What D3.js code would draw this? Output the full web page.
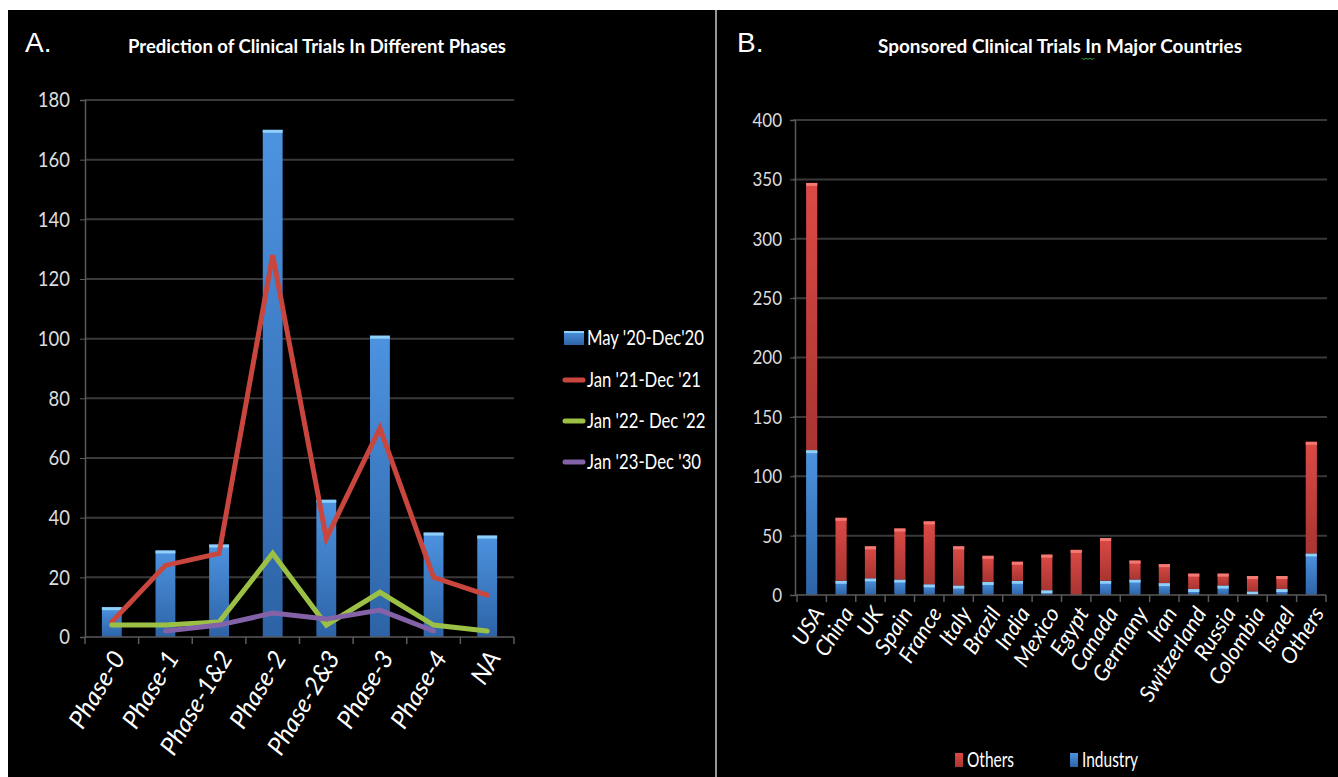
<!DOCTYPE html>
<html><head><meta charset="utf-8">
<script src="https://cdn.jsdelivr.net/npm/d3@7"></script>
<style>
html,body{margin:0;padding:0;background:#fff;}
svg{display:block;}
</style></head>
<body>
<svg id="c" width="1338" height="777"></svg>
<script>
// ---------- Data ----------
const phases = ["Phase-0","Phase-1","Phase-1&2","Phase-2","Phase-2&3","Phase-3","Phase-4","NA"];
const may20 = [10,29,31,170,46,101,35,34];
const jan21 = [5,24,28,128,33,70,20,14];
const jan22 = [4,4,5,28,4,15,4,2];
const jan23 = [null,2,4,8,6,9,2,null];
const seriesNames = ["May '20-Dec'20","Jan '21-Dec '21","Jan '22- Dec '22","Jan '23-Dec '30"];
const leftTicks = [0,20,40,60,80,100,120,140,160,180];

const countries = ["USA","China","UK","Spain","France","Italy","Brazil","India","Mexico","Egypt","Canada","Germany","Iran","Switzerland","Russia","Colombia","Israel","Others"];
const industry = [122,12,14,13,9,8,11,12,4,0,12,13,10,5,8,3,5,35];
const others   = [225,53,27,43,53,33,22,16,30,38,36,16,16,13,10,13,11,94];
const rightTicks = [0,50,100,150,200,250,300,350,400];
const stackNames = ["Others","Industry"];

const FONT = "Lato,'Open Sans',sans-serif";
const svg = d3.select("#c");

function narrow(sel, f){
  sel.each(function(){
    const L = this.getComputedTextLength();
    d3.select(this).attr("textLength", L*f).attr("lengthAdjust","spacingAndGlyphs");
  });
}
function fitFirst(sel, target){
  const L = sel.node().getComputedTextLength();
  narrow(sel, target/L);
}

// backgrounds
svg.append("rect").attr("x",8).attr("y",10).attr("width",1330).attr("height",767).attr("fill","#000");
svg.append("line").attr("x1",716).attr("x2",716).attr("y1",10).attr("y2",777).attr("stroke","#c8c8c8").attr("stroke-width",1.5);

const defs = svg.append("defs");
function grad(id, c1, c2){
  const g = defs.append("linearGradient").attr("id",id).attr("x1",0).attr("x2",0).attr("y1",0).attr("y2",1);
  g.append("stop").attr("offset","0%").attr("stop-color",c1);
  g.append("stop").attr("offset","100%").attr("stop-color",c2);
}
grad("gBlue","#4d93e0","#2d63a6");
grad("gRed","#dc4a46","#a83430");

// ---------- Panel labels & titles ----------
svg.append("text").attr("x",25).attr("y",52).text("A.")
  .attr("fill","#fff").style("font-family","'Liberation Sans',sans-serif").style("font-size","28px");
svg.append("text").attr("x",737).attr("y",52).text("B.")
  .attr("fill","#fff").style("font-family","'Liberation Sans',sans-serif").style("font-size","28px");

svg.append("text").attr("x",317).attr("y",53).attr("text-anchor","middle")
  .text("Prediction of Clinical Trials In Different Phases")
  .attr("fill","#fff").style("font-family",FONT).style("font-weight","bold").style("font-size","19px")
  .attr("textLength",378).attr("lengthAdjust","spacingAndGlyphs");
svg.append("text").attr("x",1060).attr("y",53).attr("text-anchor","middle")
  .text("Sponsored Clinical Trials In Major Countries")
  .attr("fill","#fff").style("font-family",FONT).style("font-weight","bold").style("font-size","19px")
  .attr("textLength",364).attr("lengthAdjust","spacingAndGlyphs");
// spell-check squiggle under "In"
svg.append("path").attr("d",d3.range(0,13,2).map((v,i)=>(i?"L":"M")+(1082+v)+","+(58+(i%2?1.5:0))).join(""))
  .attr("fill","none").attr("stroke","#3aa03a").attr("stroke-width",1);

// ---------- Left chart ----------
const xL = d3.scaleBand().domain(phases).range([85,514]);
const yL = d3.scaleLinear().domain([0,180]).range([637,100]);
const gL = svg.append("g");

gL.selectAll("line.grid").data(leftTicks.filter(d=>d>0)).join("line")
  .attr("x1",85).attr("x2",514).attr("y1",d=>yL(d)).attr("y2",d=>yL(d))
  .attr("stroke","#3a3a3a").attr("stroke-width",2);

const yAxL = d3.axisLeft(yL).tickValues(leftTicks).tickSize(5).tickPadding(10);
const yaL = gL.append("g").attr("transform","translate(85,0)").call(yAxL);
yaL.select(".domain").attr("stroke","#5a5a5a").attr("stroke-width",1.5);
yaL.selectAll(".tick line").attr("stroke","#5a5a5a");
yaL.selectAll(".tick text").attr("fill","#dcdcdc").style("font-family",FONT).style("font-size","21px");
narrow(yaL.selectAll(".tick text"), 0.88);

// bars
const bwL = xL.bandwidth()*0.37;
gL.selectAll("rect.bar").data(may20).join("rect")
  .attr("x",(d,i)=>xL(phases[i])+xL.bandwidth()/2-bwL/2)
  .attr("width",bwL)
  .attr("y",d=>yL(d)).attr("height",d=>yL(0)-yL(d))
  .attr("fill","url(#gBlue)");
gL.selectAll("rect.cap").data(may20).join("rect")
  .attr("x",(d,i)=>xL(phases[i])+xL.bandwidth()/2-bwL/2)
  .attr("width",bwL).attr("y",d=>yL(d)).attr("height",3)
  .attr("fill","#8fd0fa");

// x axis
const xaL = gL.append("g").attr("transform","translate(0,637)");
xaL.append("line").attr("x1",85).attr("x2",514).attr("stroke","#5a5a5a").attr("stroke-width",1.5);
const bL = phases.map(p=>xL(p)).concat([514]);
xaL.selectAll("line.t").data(bL).join("line")
  .attr("x1",d=>d).attr("x2",d=>d).attr("y1",0).attr("y2",7).attr("stroke","#5a5a5a").attr("stroke-width",1.5);
const xtL = xaL.selectAll("text").data(phases).join("text")
  .attr("transform",d=>`translate(${xL(d)+xL.bandwidth()/2+7},16) rotate(-59)`)
  .attr("text-anchor","end").attr("dy","0.35em")
  .text(d=>d).attr("fill","#fff").style("font-family",FONT).style("font-style","italic").style("font-size","25px");

// lines
const lineColors = ["#c9463f","#9bc045","#8462a8"];
const lineData = [jan21, jan22, jan23];
const lineGen = d3.line()
  .defined(d=>d!=null)
  .x((d,i)=>xL(phases[i])+xL.bandwidth()/2)
  .y(d=>yL(d));
lineData.forEach((arr,k)=>{
  gL.append("path").datum(arr).attr("d",lineGen)
    .attr("fill","none").attr("stroke",lineColors[k]).attr("stroke-width",5)
    .attr("stroke-linejoin","miter").attr("stroke-linecap","round");
});

// legend left
const legY = [338,380,421,462];
const lg = svg.append("g");
lg.append("rect").attr("x",564).attr("y",legY[0]-7).attr("width",20).attr("height",14).attr("fill","url(#gBlue)");
lg.append("rect").attr("x",564).attr("y",legY[0]-7).attr("width",20).attr("height",2).attr("fill","#8fd0fa");
[1,2,3].forEach(k=>{
  lg.append("line").attr("x1",565).attr("x2",583).attr("y1",legY[k]).attr("y2",legY[k])
    .attr("stroke",lineColors[k-1]).attr("stroke-width",5).attr("stroke-linecap","round");
});
const lgt = lg.selectAll("text").data(seriesNames).join("text")
  .attr("x",587).attr("y",(d,i)=>legY[i]).attr("dy","0.35em")
  .text(d=>d).attr("fill","#fff").style("font-family",FONT).style("font-size","21px");
fitFirst(lgt, 117);

// ---------- Right chart ----------
const xR = d3.scaleBand().domain(countries).range([797,1326]);
const yR = d3.scaleLinear().domain([0,400]).range([595,120]);
const gR = svg.append("g");

gR.selectAll("line.grid").data(rightTicks.filter(d=>d>0)).join("line")
  .attr("x1",793).attr("x2",1327).attr("y1",d=>yR(d)).attr("y2",d=>yR(d))
  .attr("stroke","#3a3a3a").attr("stroke-width",2);

const yAxR = d3.axisLeft(yR).tickValues(rightTicks).tickSize(5).tickPadding(8);
const yaR = gR.append("g").attr("transform","translate(795,0)").call(yAxR);
yaR.select(".domain").attr("stroke","#5a5a5a").attr("stroke-width",1.5);
yaR.selectAll(".tick line").attr("stroke","#5a5a5a");
yaR.selectAll(".tick text").attr("fill","#dcdcdc").style("font-family",FONT).style("font-size","20px");
narrow(yaR.selectAll(".tick text"), 0.85);

const bwR = xR.bandwidth()*0.38;
const bx = c=>xR(c)+xR.bandwidth()/2-bwR/2;
// industry
gR.selectAll("rect.ind").data(industry).join("rect")
  .attr("x",(d,i)=>bx(countries[i])).attr("width",bwR)
  .attr("y",d=>yR(d)).attr("height",d=>yR(0)-yR(d)).attr("fill","url(#gBlue)");
industry.forEach((d,i)=>{
  if(d>0) gR.append("rect").attr("x",bx(countries[i])).attr("width",bwR).attr("y",yR(d)).attr("height",3).attr("fill","#8fd0fa");
});
// others
gR.selectAll("rect.oth").data(others).join("rect")
  .attr("x",(d,i)=>bx(countries[i])).attr("width",bwR)
  .attr("y",(d,i)=>yR(d+industry[i])).attr("height",(d,i)=>yR(industry[i])-yR(d+industry[i]))
  .attr("fill","url(#gRed)");
others.forEach((d,i)=>{
  gR.append("rect").attr("x",bx(countries[i])).attr("width",bwR).attr("y",yR(d+industry[i])).attr("height",3).attr("fill","#f27a72");
});

const xaR = gR.append("g").attr("transform","translate(0,595)");
xaR.append("line").attr("x1",795).attr("x2",1326).attr("stroke","#5a5a5a").attr("stroke-width",1.5);
const bR = countries.map(c=>xR(c)).concat([1326]);
xaR.selectAll("line.t").data(bR).join("line")
  .attr("x1",d=>d).attr("x2",d=>d).attr("y1",0).attr("y2",7).attr("stroke","#5a5a5a").attr("stroke-width",1.5);
const xtR = xaR.selectAll("text").data(countries).join("text")
  .attr("transform",d=>`translate(${xR(d)+xR.bandwidth()/2+7},14) rotate(-58)`)
  .attr("text-anchor","end").attr("dy","0.35em")
  .text(d=>d).attr("fill","#fff").style("font-family",FONT).style("font-style","italic").style("font-size","22px");

// legend right
const lgR = svg.append("g");
const legRX = [955,1070];
const legRC = ["url(#gRed)","url(#gBlue)"];
stackNames.forEach((n,i)=>{
  lgR.append("rect").attr("x",legRX[i]).attr("y",753).attr("width",8).attr("height",14).attr("fill",legRC[i]);
  lgR.append("text").attr("x",legRX[i]+12).attr("y",760).attr("dy","0.35em").text(n)
    .attr("fill","#fff").style("font-family",FONT).style("font-size","21px");
});
fitFirst(lgR.selectAll("text"), 47);
</script>
</body></html>
